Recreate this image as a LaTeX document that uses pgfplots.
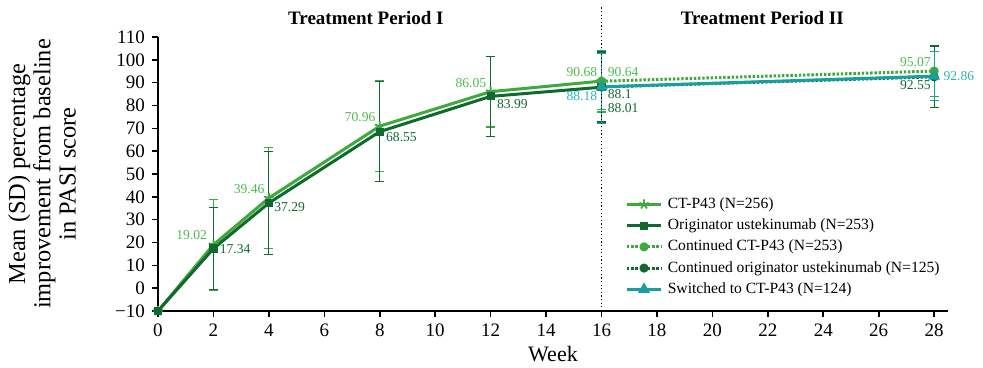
\documentclass[border=0pt]{standalone}
\usepackage{fontspec}
\setmainfont{Liberation Serif}
\usepackage{pgfplots}
\pgfplotsset{compat=1.18}
\definecolor{lg}{RGB}{62,170,62}
\definecolor{lgt}{RGB}{80,185,80}
\definecolor{dg}{RGB}{18,105,48}
\definecolor{tl}{RGB}{24,160,160}
\definecolor{tlt}{RGB}{50,180,180}
\pgfplotsset{
  ebar/.style={error bars/.cd, y dir=both, y explicit,
    error bar style={line width=0.6pt, solid, draw=#1},
    error mark options={rotate=90, mark size=2.3pt, line width=0.6pt, solid, draw=#1}},
}
\begin{document}
\begin{tikzpicture}
\begin{axis}[
  scale only axis, width=395pt, height=137pt,
  xmin=0, xmax=28.5, ymin=-10, ymax=110,
  axis lines=left, axis line style={-, line width=0.8pt},
  xtick={0,2,...,28}, ytick={-10,0,...,110},
  yticklabels={−10,0,10,20,30,40,50,60,70,80,90,100,110},
  tick align=outside, major tick length=3pt,
  tick style={line width=0.8pt, black},
  ticklabel style={font=\fontsize{9.5}{10}\selectfont},
  /pgf/number format/assume math mode=true,
  xlabel={Week}, xlabel style={font=\fontsize{11}{12}\selectfont, yshift=2pt},
  clip=false,
  legend cell align=left,
  legend style={draw=none, fill=none, at={(axis cs:16.85,41.5)}, anchor=north west,
    font=\fontsize{7.8}{9}\selectfont, row sep=0pt, inner sep=0pt,
    nodes={inner ysep=1.85pt, inner xsep=2.6pt}},
]
% Period I
\addplot[color=lg, line width=1.5pt, mark=star, mark size=2.5pt, mark options={solid, line width=0.9pt}, ebar=lg]
coordinates {(0,-10) +- (0,0) (2,19.02) +- (0,19.8) (4,39.46) +- (0,22) (8,70.96) +- (0,20) (12,86.05) +- (0,15.5) (16,90.68) +- (0,12.3)};
\addlegendentry{CT-P43 (N=256)}
\addplot[color=dg, line width=1.5pt, mark=square*, mark size=1.3pt, mark options={solid}, ebar=dg]
coordinates {(0,-10) +- (0,0) (2,17.34) +- (0,18) (4,37.29) +- (0,22.4) (8,68.55) +- (0,21.8) (12,83.99) +- (0,17.5) (16,88.01) +- (0,15.4)};
\addlegendentry{Originator ustekinumab (N=253)}
% Period II
\addplot[color=lg, line width=1.5pt, dash pattern=on 1.2pt off 0.9pt, mark=*, mark size=1.5pt, mark options={solid}, ebar=lg]
coordinates {(16,90.64) +- (0,13.5) (28,95.07) +- (0,11)};
\addlegendentry{Continued CT-P43 (N=253)}
\addplot[color=dg, line width=1.5pt, dash pattern=on 1.2pt off 0.9pt, mark=*, mark size=1.5pt, mark options={solid}, ebar=dg]
coordinates {(16,88.1) +- (0,15) (28,92.55) +- (0,13.5)};
\addlegendentry{Continued originator ustekinumab (N=125)}
\addplot[color=tl, line width=1.5pt, mark=triangle*, mark size=2pt, mark options={solid}, ebar=tl]
coordinates {(16,88.18) +- (0,16) (28,92.86) +- (0,10.7)};
\addlegendentry{Switched to CT-P43 (N=124)}
% divider
\draw[black, line width=0.6pt, dash pattern=on 0.6pt off 1.2pt] (axis cs:16,-10) -- (axis cs:16,124);
% titles
\node[font=\bfseries\fontsize{9.5}{10}\selectfont] at (axis cs:7.5,118.3) {Treatment Period I};
\node[font=\bfseries\fontsize{9.5}{10}\selectfont] at (axis cs:21.8,118.3) {Treatment Period II};
% y label
\node[rotate=90, align=center, font=\fontsize{12.2}{12.6}\selectfont] at ([xshift=-58pt]axis cs:0,50)
  {Mean (SD) percentage\\improvement from baseline\\in PASI score};
% value labels
\begin{scope}[every node/.style={font=\fontsize{6.8}{7}\selectfont, inner sep=0pt}]
\node[lgt, anchor=east] at ([xshift=-3pt,yshift=5pt]axis cs:2,19.02) {19.02};
\node[dg, anchor=west] at ([xshift=3pt,yshift=-0.5pt]axis cs:2,17.34) {17.34};
\node[lgt, anchor=east] at ([xshift=-2pt,yshift=4.5pt]axis cs:4,39.46) {39.46};
\node[dg, anchor=west] at ([xshift=2.5pt,yshift=-2pt]axis cs:4,37.29) {37.29};
\node[lgt, anchor=east] at ([xshift=-2pt,yshift=4.5pt]axis cs:8,70.96) {70.96};
\node[dg, anchor=west] at ([xshift=3pt,yshift=-2.5pt]axis cs:8,68.55) {68.55};
\node[lgt, anchor=east] at ([xshift=-2pt,yshift=4.5pt]axis cs:12,86.05) {86.05};
\node[dg, anchor=west] at ([xshift=3pt,yshift=-4pt]axis cs:12,83.99) {83.99};
\node[lgt, anchor=east] at ([xshift=-2pt,yshift=4.5pt]axis cs:16,90.68) {90.68};
\node[lgt, anchor=west] at ([xshift=3pt,yshift=4.5pt]axis cs:16,90.64) {90.64};
\node[tlt, anchor=east] at ([xshift=-2pt,yshift=-4.5pt]axis cs:16,88.18) {88.18};
\node[dg, anchor=west] at ([xshift=3pt,yshift=-3.5pt]axis cs:16,88.1) {88.1};
\node[dg, anchor=west] at ([xshift=3pt,yshift=-10.5pt]axis cs:16,88.01) {88.01};
\node[lgt, anchor=east] at ([xshift=-1.5pt,yshift=4.5pt]axis cs:28,95.07) {95.07};
\node[dg, anchor=east] at ([xshift=-1.5pt,yshift=-4pt]axis cs:28,92.55) {92.55};
\node[tlt, anchor=west] at ([xshift=4.5pt,yshift=0pt]axis cs:28,92.86) {92.86};
\end{scope}
\coordinate (bl) at (axis cs:0,-10);
\end{axis}
\pgfresetboundingbox
\path[use as bounding box] (bl) ++(-79pt,-28.5pt) rectangle ++(491.5pt,184pt);
\end{tikzpicture}
\end{document}
